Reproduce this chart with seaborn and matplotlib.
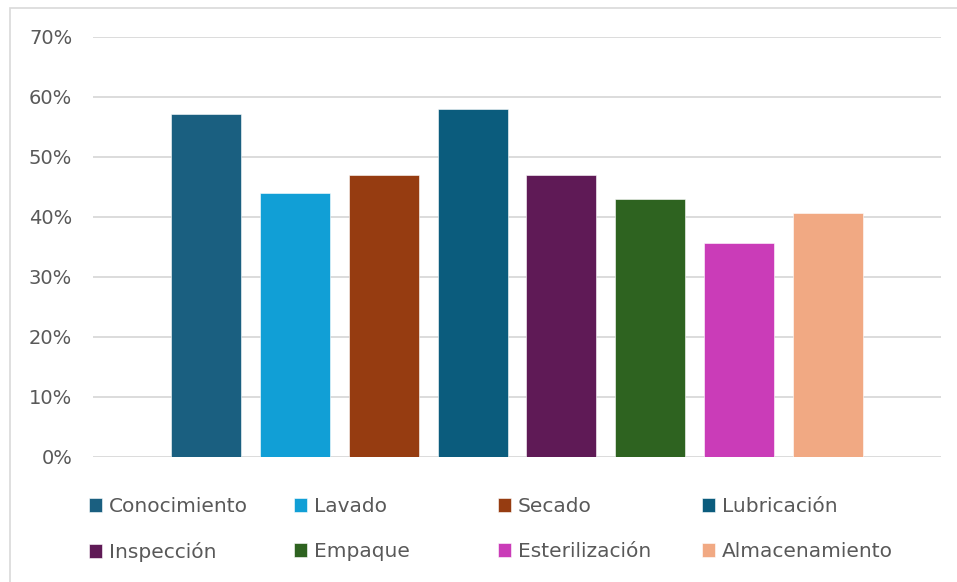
import matplotlib
matplotlib.use("Agg")
import matplotlib.pyplot as plt
from matplotlib.patches import Patch, Rectangle
from matplotlib.ticker import PercentFormatter
import seaborn as sns
import pandas as pd

categories = ["Conocimiento", "Lavado", "Secado", "Lubricación",
              "Inspección", "Empaque", "Esterilización", "Almacenamiento"]
values = [0.571, 0.44, 0.47, 0.58, 0.47, 0.43, 0.357, 0.407]
colors = ["#1A5F80", "#119FD6", "#963C11", "#0B5C7D",
          "#5F1A56", "#2E6320", "#CA3CB8", "#F1A983"]
y_ticks = [0, 0.1, 0.2, 0.3, 0.4, 0.5, 0.6, 0.7]

sns.set_theme(style="white")
plt.rcParams["font.family"] = ["DejaVu Sans"]

text_color = "#595959"
grid_color = "#D9D9D9"

df = pd.DataFrame({"categoria": categories, "valor": values})
palette = dict(zip(categories, colors))

fig = plt.figure(figsize=(9.57, 5.82), dpi=100)
ax = fig.add_axes([93 / 957, 1 - 456.7 / 582, 848 / 957, 420 / 582])

sns.barplot(data=df, x="categoria", y="valor", hue="categoria",
            palette=palette, saturation=1, width=0.788, legend=False, ax=ax,
            edgecolor="white", linewidth=0.4, zorder=3)

ax.set_xlim(-1.272, 8.272)
ax.set_ylim(0, 0.7)
ax.set_yticks(y_ticks)
ax.yaxis.set_major_formatter(PercentFormatter(1.0, decimals=0))
ax.tick_params(axis="y", length=0, pad=15, labelsize=14, labelcolor=text_color)
ax.set_xticks([])
ax.set_xlabel("")
ax.set_ylabel("")
ax.grid(axis="y", color=grid_color, linewidth=1.3, zorder=0)
ax.set_axisbelow(True)
for s in ax.spines.values():
    s.set_visible(False)

# Legend: four columns, two rows, evenly spaced
handles = [Patch(facecolor=c, edgecolor="white", linewidth=0.4) for c in colors]
col_x = [89, 294, 498, 702]
for i, x in enumerate(col_x):
    idx = [i, i + 4]
    fig.legend([handles[j] for j in idx], [categories[j] for j in idx],
               loc="upper left", bbox_to_anchor=(x / 957, 1 - 497 / 582),
               frameon=False, fontsize=14.5, labelcolor=text_color,
               handlelength=0.65, handleheight=0.7, handletextpad=0.32,
               labelspacing=1.3, borderpad=0, borderaxespad=0)

# Outer chart border
fig.patches.append(Rectangle((10 / 957, -0.01), 1.0, 1 - 8 / 582 + 0.01,
                             transform=fig.transFigure, fill=False,
                             edgecolor="#D9D9D9", linewidth=1.2))

fig.savefig("out.png", dpi=100)
